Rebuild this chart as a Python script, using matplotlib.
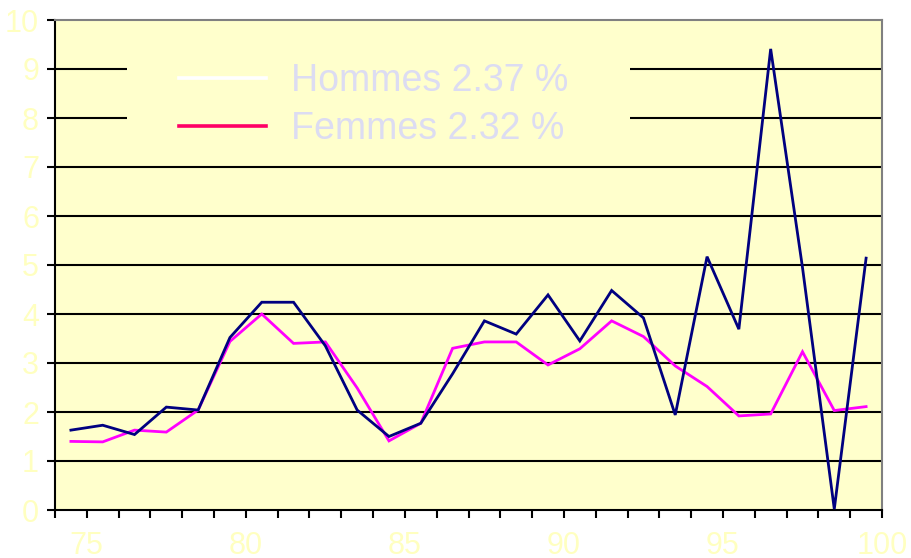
import matplotlib
matplotlib.use("Agg")
import matplotlib.pyplot as plt
from matplotlib.lines import Line2D
from matplotlib.patches import Rectangle
import numpy as np

years = [74.5 + i for i in range(26)]
hommes = [1.63, 1.73, 1.54, 2.10, 2.04, 3.52, 4.24, 4.24, 3.35, 2.04, 1.50, 1.77, 2.78,
          3.86, 3.59, 4.39, 3.45, 4.48, 3.92, 1.94, 5.17, 3.69, 9.41, 4.95, 0.02, 5.14]
femmes = [1.40, 1.39, 1.63, 1.59, 2.04, 3.44, 4.00, 3.40, 3.43, 2.49, 1.41, 1.77, 3.30,
          3.43, 3.43, 2.96, 3.29, 3.86, 3.54, 2.94, 2.52, 1.92, 1.96, 3.23, 2.03, 2.11]
legend_labels = ["Hommes 2.37 %", "Femmes 2.32 %"]
xtick_labels = ["75", "80", "85", "90", "95", "100"]
xtick_pos = [75, 80, 85, 90, 95, 100]
ytick_pos = list(range(0, 11))

plt.rcParams['font.family'] = ['Liberation Sans', 'DejaVu Sans']

W, H = 911, 558
fig = plt.figure(figsize=(W / 100, H / 100), dpi=100)
fig.patch.set_facecolor('white')
ax = fig.add_axes([55 / W, 1 - 510 / H, (882 - 55) / W, (510 - 20) / H])
bg = '#FFFFCC'
ax.set_facecolor(bg)

ax.set_xlim(74, 100)
ax.set_ylim(0, 10)

for v in ytick_pos[1:-1]:
    ax.axhline(v, color='black', lw=1.5, zorder=1)

ax.plot(years, hommes, color='#000080', lw=2.0, zorder=3, solid_joinstyle='miter')
ax.plot(years, femmes, color='#FF00FF', lw=2.0, zorder=2, solid_joinstyle='miter')

# legend background patch (covers gridlines)
ax.add_patch(Rectangle(((127 - 55) / 827, (510 - 150) / 490), (630 - 127) / 827, 0.25,
                       transform=ax.transAxes, facecolor=bg, edgecolor='none', zorder=4))

fs = 27
px = fs * 100 / 72
handles = [Line2D([], [], color='white', lw=2.6), Line2D([], [], color='#FF0066', lw=2.6)]
leg = ax.legend(handles, legend_labels, loc='center left',
                bbox_to_anchor=((179 - 55) / 827, (510 - 105) / 490),
                frameon=False, fontsize=fs, handlelength=87 / px, handletextpad=25 / px,
                labelspacing=0.30, borderpad=0, borderaxespad=0)
leg.set_zorder(5)
for t in leg.get_texts():
    t.set_color('#DCDCF2')

ax.set_yticks(ytick_pos)
ax.set_yticklabels([str(v) for v in ytick_pos])
ax.set_xticks(xtick_pos)
ax.set_xticklabels(xtick_labels)
ax.set_xticks(np.arange(74, 101, 1), minor=True)

ax.tick_params(axis='y', which='major', direction='out', length=5.5, width=1.5,
               color='black', labelsize=22, labelcolor='#FFFFC0', pad=6)
ax.tick_params(axis='x', which='both', direction='out', length=6, width=1.5,
               color='black', labelsize=22, labelcolor='#FFFFC0', pad=9)

for s in ['left', 'bottom']:
    ax.spines[s].set_color('black')
    ax.spines[s].set_linewidth(1.5)
for s in ['top', 'right']:
    ax.spines[s].set_color('#808080')
    ax.spines[s].set_linewidth(1.5)

fig.savefig('out.png', dpi=100, facecolor='white')
